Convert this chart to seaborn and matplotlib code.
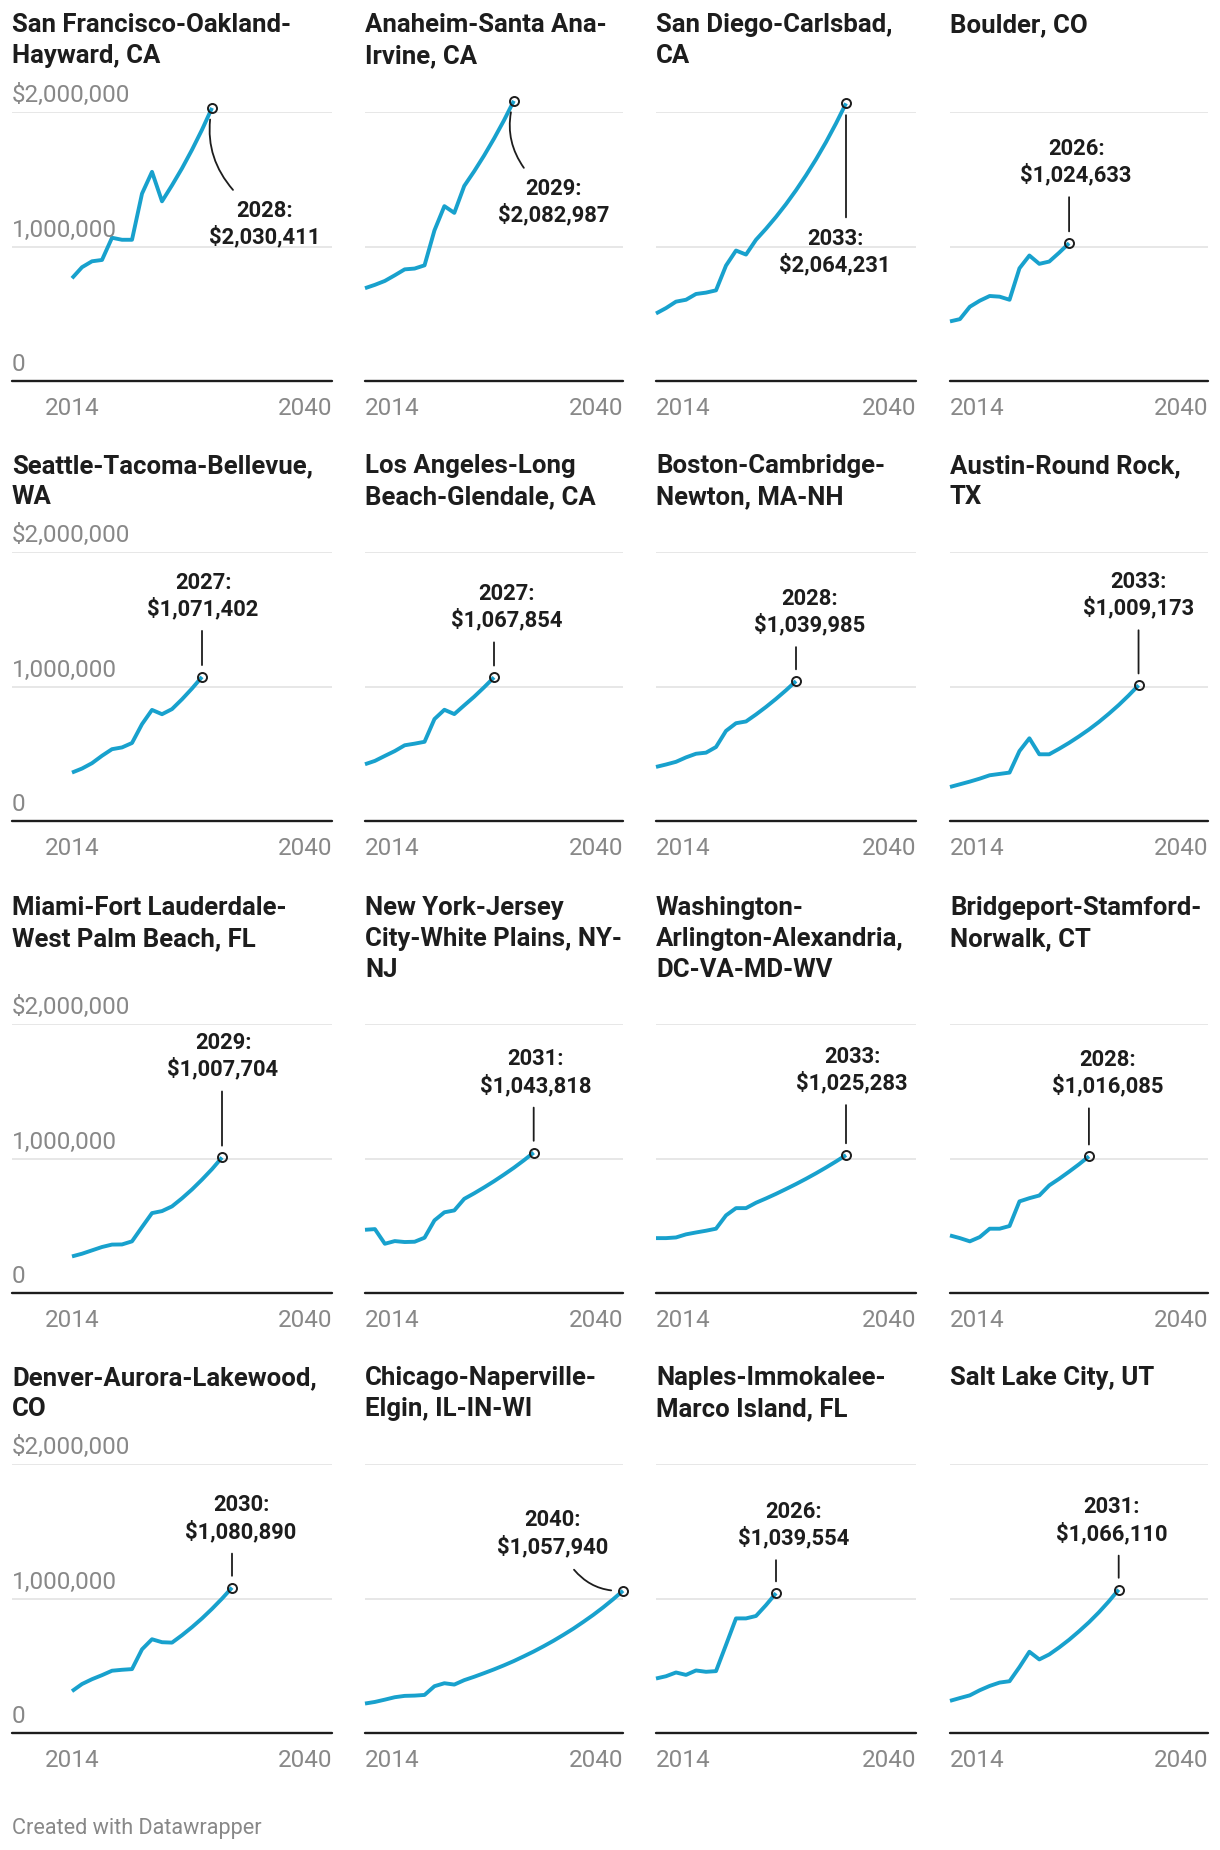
import matplotlib
matplotlib.use("Agg")
import matplotlib.pyplot as plt
import seaborn as sns
import pandas as pd
import numpy as np

# ---------------- data ----------------
titles = [
    "San Francisco-Oakland-\nHayward, CA", "Anaheim-Santa Ana-\nIrvine, CA", "San Diego-Carlsbad,\nCA", "Boulder, CO",
    "Seattle-Tacoma-Bellevue,\nWA", "Los Angeles-Long\nBeach-Glendale, CA", "Boston-Cambridge-\nNewton, MA-NH", "Austin-Round Rock,\nTX",
    "Miami-Fort Lauderdale-\nWest Palm Beach, FL", "New York-Jersey\nCity-White Plains, NY-\nNJ", "Washington-\nArlington-Alexandria,\nDC-VA-MD-WV", "Bridgeport-Stamford-\nNorwalk, CT",
    "Denver-Aurora-Lakewood,\nCO", "Chicago-Naperville-\nElgin, IL-IN-WI", "Naples-Immokalee-\nMarco Island, FL", "Salt Lake City, UT",
]
first_year = 2014
end_years = [2028, 2029, 2033, 2026, 2027, 2027, 2028, 2033, 2029, 2031, 2033, 2028, 2030, 2040, 2026, 2031]

sf = [764000, 846000, 890000, 900000, 1065000, 1050000, 1050000, 1393000, 1555000, 1336000, 1455000, 1581000, 1719000, 1868000, 2030411]
anaheim = [690000, 715000, 744000, 786000, 830000, 836000, 860000, 1120000, 1300000, 1250000, 1450000, 1559000, 1676000, 1802000, 1937000, 2082987]
san_diego = [502000, 542000, 590000, 604000, 647000, 657000, 674000, 858000, 970000, 940000, 1050000, 1132000, 1220000, 1315000, 1418000, 1529000, 1648000, 1776000, 1915000, 2064231]
boulder = [443000, 460000, 552000, 597000, 632000, 627000, 604000, 838000, 933000, 871000, 888000, 954000, 1024633]
seattle = [360000, 390000, 430000, 485000, 534000, 547000, 580000, 720000, 826000, 794000, 832000, 905000, 985000, 1071402]
los_angeles = [422000, 447000, 484000, 520000, 563000, 575000, 589000, 758000, 827000, 795000, 860000, 924000, 994000, 1067854]
boston = [402000, 420000, 440000, 473000, 500000, 508000, 550000, 670000, 727000, 740000, 792000, 848000, 908000, 972000, 1039985]
austin = [253000, 273000, 293000, 315000, 340000, 350000, 360000, 520000, 615000, 496000, 496000, 537000, 581000, 629000, 680000, 736000, 797000, 862000, 933000, 1009173]
miami = [272000, 292000, 317000, 342000, 360000, 361000, 384000, 490000, 594000, 609000, 644000, 704000, 770000, 843000, 921000, 1007704]
new_york = [470000, 475000, 366000, 386000, 379000, 381000, 411000, 540000, 600000, 614000, 700000, 741000, 785000, 831000, 880000, 931000, 986000, 1043818]
washington = [408000, 408000, 413000, 436000, 450000, 463000, 478000, 577000, 631000, 631000, 671000, 703000, 737000, 773000, 810000, 849000, 890000, 933000, 978000, 1025283]
bridgeport = [428000, 408000, 384000, 416000, 478000, 478000, 498000, 681000, 705000, 725000, 800000, 849000, 902000, 957000, 1016085]
denver = [311000, 364000, 400000, 430000, 463000, 470000, 475000, 622000, 697000, 675000, 672000, 727000, 787000, 852000, 923000, 999000, 1080890]
chicago = [219000, 231000, 248000, 266000, 276000, 278000, 283000, 348000, 370000, 360000, 393000, 418000, 445000, 473000, 503000, 535000, 570000, 606000, 645000, 686000, 730000, 776000, 826000, 878000, 934000, 994000, 1057940]
naples = [405000, 422000, 450000, 432000, 465000, 455000, 460000, 655000, 852000, 852000, 870000, 951000, 1039554]
salt_lake = [239000, 260000, 280000, 318000, 350000, 375000, 385000, 490000, 604000, 547000, 584000, 636000, 693000, 756000, 823000, 897000, 978000, 1066110]

series = [sf, anaheim, san_diego, boulder, seattle, los_angeles, boston, austin,
          miami, new_york, washington, bridgeport, denver, chicago, naples, salt_lake]

y_ticks = [0, 1_000_000, 2_000_000]
y_tick_labels = ["0", "1,000,000", "$2,000,000"]
x_ticks = [2014, 2040]
x_tick_labels = ["2014", "2040"]
footer = "Created with Datawrapper"

# ---------------- layout (pixels) ----------------
W, H = 1220, 1850
col_left = [12, 365, 656, 950]
col_x0 = [72, 365, 656, 950]
col_right = [332, 623, 916, 1208]
row_grid_top = [112, 552, 1024, 1464]
row_base = [381, 821, 1293, 1733]
row_title_top = [13, 454, 896, 1366]

# annotation layout: (label dx, label dy [up +], kind, connector end dx, end dy, rad)
ann = [
    (53, -116, "c", 21, -82, -0.25),
    (40, -101, "c", 10, -67, -0.25),
    (-11, -149, "v", 0, -114, 0),
    (7, 81, "v", 0, 46, 0),
    (1, 81, "v", 0, 46, 0),
    (13, 70, "v", 0, 35, 0),
    (14, 69, "v", 0, 34, 0),
    (0, 90, "v", 0, 55, 0),
    (1, 101, "v", 0, 66, 0),
    (2, 80, "v", 0, 45, 0),
    (6, 85, "v", 0, 50, 0),
    (19, 83, "v", 0, 48, 0),
    (9, 69, "v", 0, 34, 0),
    (-70, 57, "c", -49, 21, 0.25),
    (18, 68, "v", 0, 33, 0),
    (-7, 69, "v", 0, 34, 0),
]

BLUE = "#18a1cd"
DARK = "#1d1d1d"
GRAY = "#888888"
GRID = "#e5e5e5"

sns.set_theme(style="white")
plt.rcParams["font.family"] = ["Roboto", "DejaVu Sans"]

fig = plt.figure(figsize=(W / 100, H / 100), dpi=100)
fig.patch.set_facecolor("white")

for i, (title, vals, end) in enumerate(zip(titles, series, end_years)):
    r, c = divmod(i, 4)
    left, x0, right = col_left[c], col_x0[c], col_right[c]
    top, base = row_grid_top[r], row_base[r]
    ax = fig.add_axes([left / W, 1 - base / H, (right - left) / W, (base - top) / H])
    span_years = x_ticks[1] - x_ticks[0]
    xmin = x_ticks[0] - (x0 - left) / (right - x0) * span_years
    years = np.arange(first_year, end + 1)
    df = pd.DataFrame({"year": years, "value": vals})

    ax.axhline(1_000_000, color=GRID, lw=1.3, zorder=1)
    ax.axhline(2_000_000, color=GRID, lw=1.3, zorder=1)
    ax.axhline(0, color=DARK, lw=1.7, zorder=2, clip_on=False)

    sns.lineplot(data=df, x="year", y="value", ax=ax, color=BLUE, lw=2.8,
                 clip_on=False, zorder=3, solid_joinstyle="round", solid_capstyle="butt")
    ax.plot([years[-1]], [vals[-1]], "o", ms=6.5, mfc="none", mec=DARK, mew=1.4,
            clip_on=False, zorder=5)

    ax.set_xlim(xmin, x_ticks[1])
    ax.set_ylim(0, 2_000_000)
    ax.set_xticks([])
    ax.set_yticks([])
    ax.set_xlabel("")
    ax.set_ylabel("")
    for s in ax.spines.values():
        s.set_visible(False)
    ax.set_facecolor("none")

    # x labels
    for xt, xl, ha in zip(x_ticks, x_tick_labels, ["center" if c == 0 else "left", "right"]):
        ax.annotate(xl, xy=(xt, 0), xycoords=("data", "axes fraction"), xytext=(0, -34),
                    textcoords="offset pixels", ha=ha, va="baseline", fontsize=17.5, color=GRAY,
                    annotation_clip=False)
    # y labels (first column only)
    if c == 0:
        for yt, yl in zip(y_ticks, y_tick_labels):
            ax.annotate(yl, xy=(0, yt), xycoords=("axes fraction", "data"), xytext=(0, 10),
                        textcoords="offset pixels", ha="left", va="baseline", fontsize=17.5,
                        color=GRAY, annotation_clip=False)

    # annotation
    ldx, ldy, kind, cdx, cdy, rad = ann[i]
    label = f"{end}:\n${vals[-1]:,.0f}"
    ax.annotate(label, xy=(years[-1], vals[-1]), xytext=(ldx, ldy), textcoords="offset pixels",
                ha="center", va="center", fontsize=15.8, fontweight="bold", color=DARK,
                linespacing=1.22, annotation_clip=False, zorder=6)
    conn = "arc3,rad=0" if kind == "v" else f"arc3,rad={rad}"
    ax.annotate("", xy=(years[-1], vals[-1]), xycoords="data",
                xytext=(cdx, cdy), textcoords="offset pixels",
                arrowprops=dict(arrowstyle="-", color=DARK, lw=1.3, shrinkA=0, shrinkB=8.5,
                                connectionstyle=conn),
                annotation_clip=False)

    fig.text(left / W, 1 - row_title_top[r] / H, title, ha="left", va="top",
             fontsize=18.5, fontweight="bold", color=DARK, linespacing=1.36)

fig.text(12 / W, 1 - 1834 / H, footer, ha="left", va="baseline", fontsize=15.6, color=GRAY)

fig.savefig("out.png", dpi=100, facecolor="white")
